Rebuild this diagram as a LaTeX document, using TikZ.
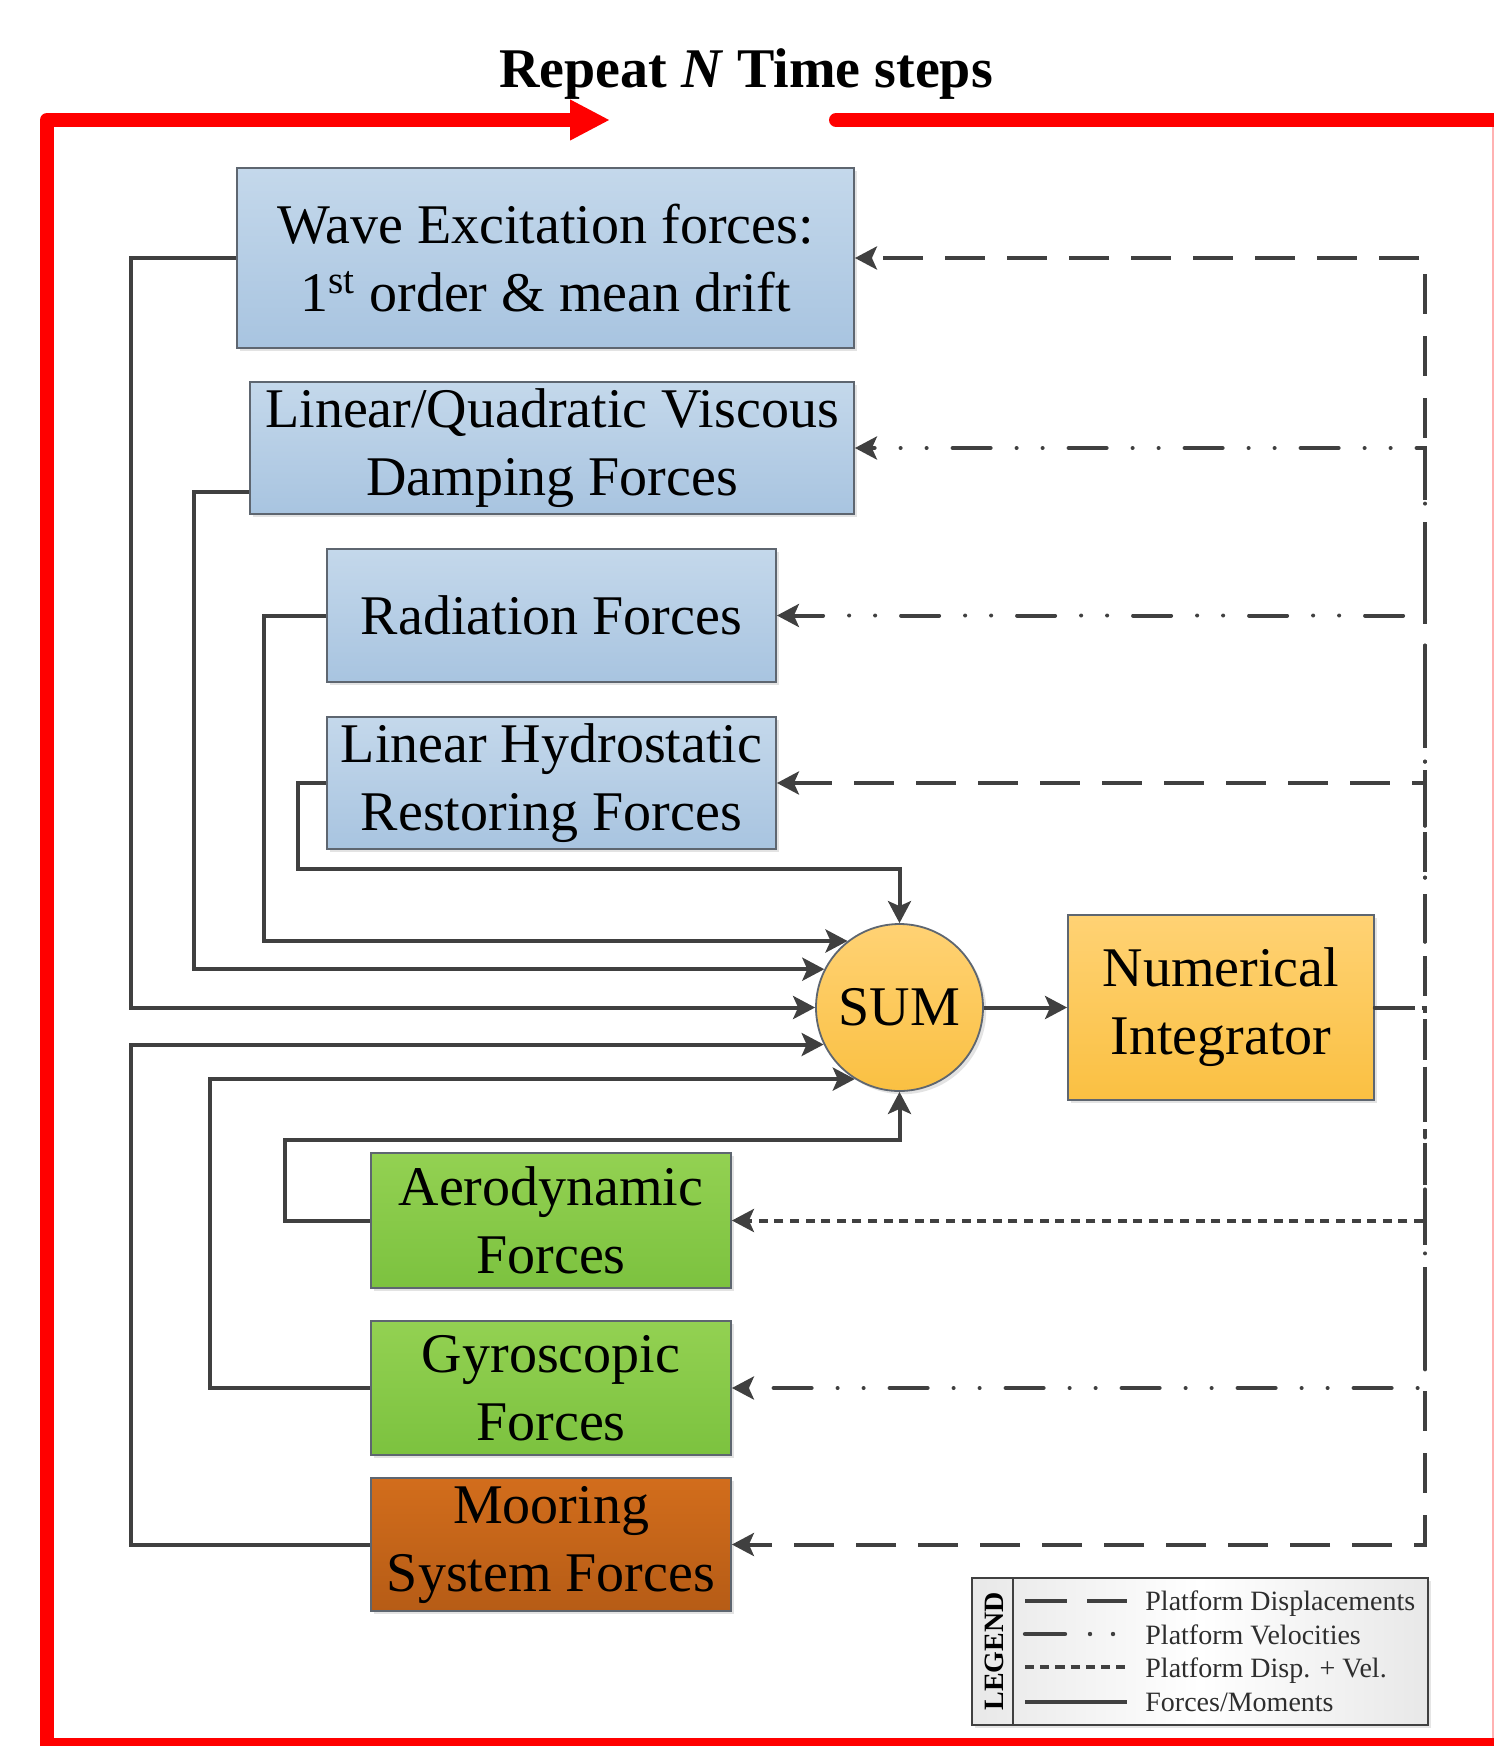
\documentclass[tikz,border=0pt]{standalone}
\usepackage{fontspec}
\setmainfont{Liberation Serif}
\usetikzlibrary{arrows.meta,shadows,calc}
\definecolor{lineGray}{HTML}{404040}
\definecolor{boxBorder}{HTML}{5E6670}
\definecolor{blueTop}{HTML}{C4D8EB}
\definecolor{blueBot}{HTML}{A8C4E0}
\definecolor{greenTop}{HTML}{93D152}
\definecolor{greenBot}{HTML}{7CC23F}
\definecolor{rustTop}{HTML}{D26D1C}
\definecolor{rustBot}{HTML}{B65C16}
\definecolor{goldTop}{HTML}{FFD274}
\definecolor{goldBot}{HTML}{FAC042}
\definecolor{legText}{HTML}{2E2E2E}
\definecolor{loopRed}{HTML}{FF0000}
\newcommand{\bxfont}{\fontsize{28pt}{34pt}\selectfont}
\newcommand{\lgfont}{\fontsize{14pt}{16pt}\selectfont}
\tikzset{
  blk/.style={draw=boxBorder, line width=0.9pt, inner sep=0pt, align=center,
    font=\bxfont, text=black,
    drop shadow={shadow xshift=1.6pt, shadow yshift=-1.6pt, opacity=0.22}},
  bluebox/.style={blk, top color=blueTop, bottom color=blueBot},
  greenbox/.style={blk, top color=greenTop, bottom color=greenBot},
  rustbox/.style={blk, top color=rustTop, bottom color=rustBot},
  goldbox/.style={blk, top color=goldTop, bottom color=goldBot},
  force/.style={draw=lineGray, line width=2pt, -{Stealth[length=11pt,width=11.5pt,inset=2.5pt]}},
  disp/.style={force, dash pattern=on 20pt off 11pt},
  vel/.style={force, line cap=round,
    dash pattern=on 19pt off 13pt on 0pt off 13pt on 0pt off 13pt},
  dv/.style={force, dash pattern=on 4.5pt off 3.3pt},
  redloop/.style={draw=loopRed, line width=7pt, line join=round},
  legtext/.style={anchor=base west, font=\lgfont, text=legText, inner sep=0pt},
  legsample/.style={line width=2.2pt, draw=lineGray},
}
\begin{document}
\begin{tikzpicture}[x=0.5pt,y=-0.5pt]
\useasboundingbox (0,0) rectangle (1494,1746);
\clip (0,0) rectangle (1494,1746);
\fill[white] (0,0) rectangle (1494,1746);

% title
\node[anchor=base, font=\bfseries\fontsize{28pt}{34pt}\selectfont, inner sep=0pt] (title) at (746,87) {Repeat \textit{N} Time steps};

% red loop
\draw[loopRed!30, line width=0.6pt] (1493,127) -- (1493,1746);
\draw[redloop, -{Triangle[length=20pt,width=19pt]}] (1520,1745) -- (47,1745) -- (47,120) -- (610,120);
\draw[redloop, line cap=round] (836,120) -- (1520,120);

% blocks
\node[bluebox, minimum width=308.5pt, minimum height=90pt] (wave) at (545.5,258)
  {Wave Excitation forces:\\1\textsuperscript{st} order \& mean drift};
\node[bluebox, minimum width=302pt, minimum height=66pt] (linquad) at (552,448)
  {Linear/Quadratic Viscous\\Damping Forces};
\node[bluebox, minimum width=224.5pt, minimum height=66.5pt] (rad) at (551.5,615.5)
  {Radiation Forces};
\node[bluebox, minimum width=224.5pt, minimum height=66pt] (hydro) at (551.5,783)
  {Linear Hydrostatic\\Restoring Forces};
\node[goldbox, circle, minimum size=83.5pt] (sum) at (899.5,1007.5) {SUM};
\node[goldbox, minimum width=153pt, minimum height=92.5pt] (integ) at (1221,1007.5)
  {Numerical\\Integrator};
\node[greenbox, minimum width=180pt, minimum height=67.5pt] (aero) at (551,1220.5)
  {Aerodynamic\\Forces};
\node[greenbox, minimum width=180pt, minimum height=67pt] (gyro) at (551,1388)
  {Gyroscopic\\Forces};
\node[rustbox, minimum width=180pt, minimum height=66.5pt] (moor) at (551,1544.5)
  {Mooring\\System Forces};

% routing coordinates
\coordinate (xOuter) at (131,0);
\coordinate (xLQ) at (194,0);
\coordinate (xGyro) at (210,0);
\coordinate (xRad) at (264,0);
\coordinate (xAero) at (285,0);
\coordinate (xHyd) at (298,0);
\coordinate (yHyd) at (0,869);
\coordinate (yAero) at (0,1140);
\coordinate (xR) at (1425,0);

% forces into SUM
\draw[force] (wave.west) -| (xOuter |- sum.180) -- (sum.180);
\draw[force] ([yshift=-22pt]linquad.west) -| (xLQ |- sum.153) -- (sum.153);
\draw[force] (rad.west) -| (xRad |- sum.128) -- (sum.128);
\draw[force] (hydro.west) -| (xHyd |- yHyd) -| (sum.north);
\draw[force] (aero.west) -| (xAero |- yAero) -| (sum.south);
\draw[force] (gyro.west) -| (xGyro |- sum.238) -- (sum.238);
\draw[force] (moor.west) -| (xOuter |- sum.206) -- (sum.206);
\draw[force] (sum.east) -- (integ.west);

% feedback from integrator
\draw[disp] (integ.east) -- (xR |- integ.east) |- (wave.east);
\draw[vel] (integ.east) -- (xR |- integ.east) |- (linquad.east);
\draw[vel] (integ.east) -- (xR |- integ.east) |- (rad.east);
\draw[disp] (integ.east) -- (xR |- integ.east) |- (hydro.east);
\draw[dv] (integ.east) -- (xR |- integ.east) |- (aero.east);
\draw[vel] (integ.east) -- (xR |- integ.east) |- (gyro.east);
\draw[disp] (integ.east) -- (xR |- integ.east) |- (moor.east);

% legend
\node[draw=lineGray, line width=1.3pt, inner sep=0pt, left color=black!9, right color=black!9, middle color=white,
  minimum width=228pt, minimum height=73.5pt,
  drop shadow={shadow xshift=1.5pt, shadow yshift=-1.5pt, opacity=0.2}] (leg) at (1200,1651.5) {};
\coordinate (ldivT) at (1013,1578);
\coordinate (ldivB) at (1013,1725);
\draw[draw=lineGray, line width=1.3pt] (ldivT) -- (ldivB);
\node[rotate=90, font=\bfseries\lgfont, text=black, inner sep=0pt] (legtitle) at (994,1651.5) {LEGEND};
\coordinate (s1a) at (1025,1601); \coordinate (s1b) at (1127,1601);
\coordinate (s2a) at (1025,1634); \coordinate (s2b) at (1127,1634);
\coordinate (s3a) at (1025,1667); \coordinate (s3b) at (1127,1667);
\coordinate (s4a) at (1025,1702); \coordinate (s4b) at (1127,1702);
\draw[legsample, dash pattern=on 21pt off 10pt] (s1a) -- (s1b);
\draw[legsample, line cap=round, dash pattern=on 20pt off 12.5pt on 0pt off 11.5pt on 0pt off 20pt] (s2a) -- (s2b);
\draw[legsample, dash pattern=on 4.6pt off 3pt] (s3a) -- (s3b);
\draw[legsample] (s4a) -- (s4b);
\node[legtext] (l1) at (1145,1610) {Platform Displacements};
\node[legtext] (l2) at (1145,1644) {Platform Velocities};
\node[legtext] (l3) at (1145,1677) {Platform Disp. + Vel.};
\node[legtext] (l4) at (1145,1711) {Forces/Moments};
\end{tikzpicture}
\end{document}
